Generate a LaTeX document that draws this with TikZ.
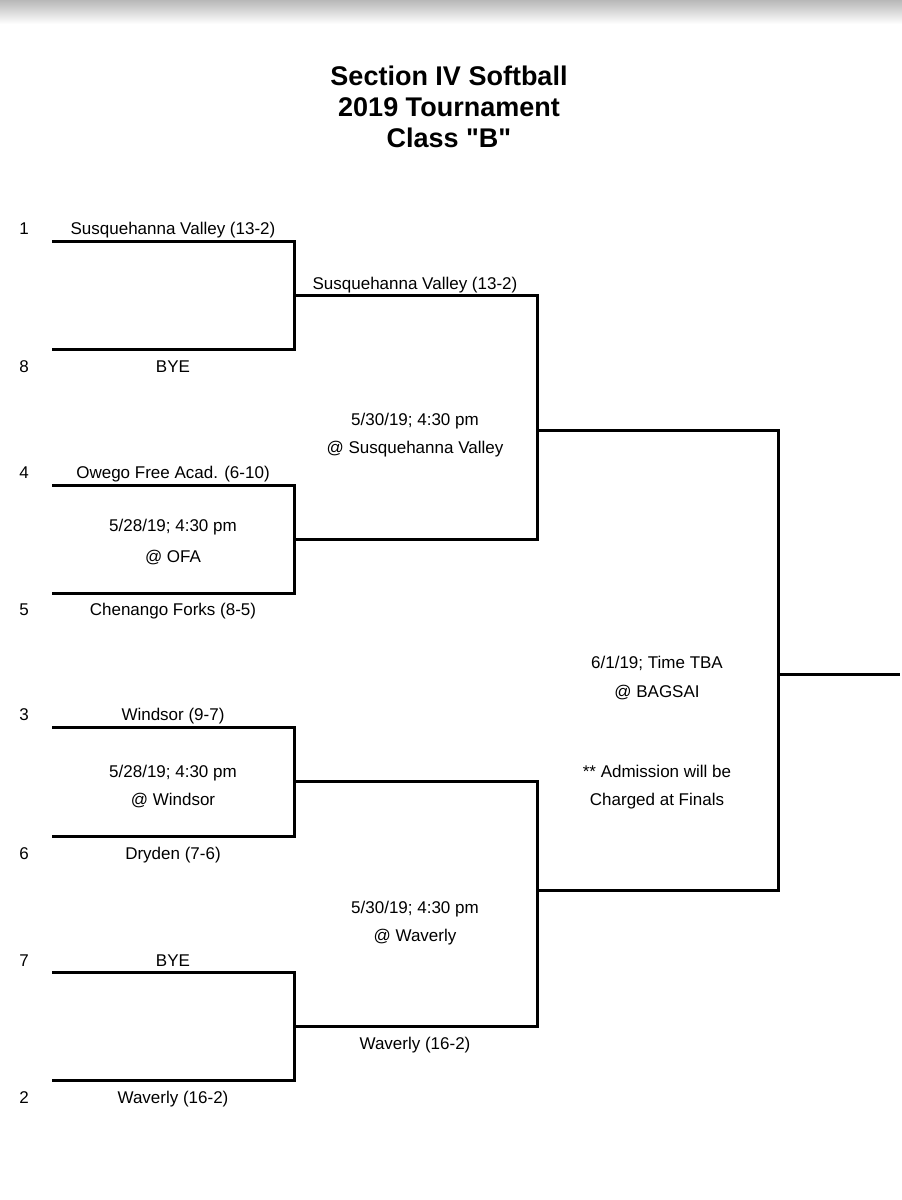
\documentclass[tikz,border=0pt]{standalone}
\usepackage{fontspec}
\setmainfont{Liberation Sans}[Ligatures=TeXOff]
\begin{document}
\begin{tikzpicture}[x=1pt,y=-1pt,
  bline/.style={line width=3pt, line join=miter},
  lbl/.style={anchor=base, inner sep=0pt, font=\fontsize{17}{20}\selectfont},
  seed/.style={lbl},
  ttl/.style={anchor=base, inner sep=0pt, font=\fontsize{27}{31}\selectfont\bfseries}]
\useasboundingbox (0,0) rectangle (902,1200);
\fill[white] (0,0) rectangle (902,1200);
\shade[top color=black!28, bottom color=white] (0,0) rectangle (902,24);

% title
\node[ttl] (t1) at (449,85) {Section IV Softball};
\node[ttl] (t2) at (449,116) {2019 Tournament};
\node[ttl] (t3) at (449,147) {Class "B"};

% coordinates - round 1
\coordinate (a1) at (52,241);  \coordinate (b1) at (294,241);
\coordinate (a8) at (52,349);  \coordinate (b8) at (294,349);
\coordinate (a4) at (52,485);  \coordinate (b4) at (294,485);
\coordinate (a5) at (52,593);  \coordinate (b5) at (294,593);
\coordinate (a3) at (52,727);  \coordinate (b3) at (294,727);
\coordinate (a6) at (52,836);  \coordinate (b6) at (294,836);
\coordinate (a7) at (52,972);  \coordinate (b7) at (294,972);
\coordinate (a2) at (52,1080); \coordinate (b2) at (294,1080);
% round 2
\coordinate (m18) at (294,295);  \coordinate (n18) at (537,295);
\coordinate (m45) at (294,539);  \coordinate (n45) at (537,539);
\coordinate (m36) at (294,781);  \coordinate (n36) at (537,781);
\coordinate (m72) at (294,1026); \coordinate (n72) at (537,1026);
% round 3
\coordinate (u) at (537,430);  \coordinate (uu) at (778,430);
\coordinate (l) at (537,890);  \coordinate (ll) at (778,890);
% final
\coordinate (f) at (778,674);  \coordinate (ff) at (900,674);

\draw[bline] (a1) -- (b1) -- (b8) -- (a8);
\draw[bline] (a4) -- (b4) -- (b5) -- (a5);
\draw[bline] (a3) -- (b3) -- (b6) -- (a6);
\draw[bline] (a7) -- (b7) -- (b2) -- (a2);
\draw[bline] (m18) -- (n18) -- (n45) -- (m45);
\draw[bline] (m36) -- (n36) -- (n72) -- (m72);
\draw[bline] (u) -- (uu) -- (ll) -- (l);
\draw[bline] (f) -- (ff);

% seeds
\node[seed] (s1) at (24,234) {1};
\node[seed] (s8) at (24,372) {8};
\node[seed] (s4) at (24,478) {4};
\node[seed] (s5) at (24,615) {5};
\node[seed] (s3) at (24,720) {3};
\node[seed] (s6) at (24,859) {6};
\node[seed] (s7) at (24,966) {7};
\node[seed] (s2) at (24,1103) {2};

% round 1 labels
\node[lbl] (l1) at (173,234) {Susquehanna Valley (13-2)};
\node[lbl] (l8) at (173,372) {BYE};
\node[lbl] (l4) at (173,478) {Owego Free Acad. (6-10)};
\node[lbl] (g45a) at (173,531) {5/28/19; 4:30 pm};
\node[lbl] (g45b) at (173,562) {@ OFA};
\node[lbl] (l5) at (173,615) {Chenango Forks (8-5)};
\node[lbl] (l3) at (173,720) {Windsor (9-7)};
\node[lbl] (g36a) at (173,777) {5/28/19; 4:30 pm};
\node[lbl] (g36b) at (173,805) {@ Windsor};
\node[lbl] (l6) at (173,859) {Dryden (7-6)};
\node[lbl] (l7) at (173,966) {BYE};
\node[lbl] (l2) at (173,1103) {Waverly (16-2)};

% round 2 labels
\node[lbl] (r1) at (415,289) {Susquehanna Valley (13-2)};
\node[lbl] (gua) at (415,425) {5/30/19; 4:30 pm};
\node[lbl] (gub) at (415,453) {@ Susquehanna Valley};
\node[lbl] (gla) at (415,913) {5/30/19; 4:30 pm};
\node[lbl] (glb) at (415,941) {@ Waverly};
\node[lbl] (r2) at (415,1049) {Waverly (16-2)};

% final labels
\node[lbl] (fa) at (657,668) {6/1/19; Time TBA};
\node[lbl] (fb) at (657,697) {@ BAGSAI};
\node[lbl] (fc) at (657,777) {** Admission will be};
\node[lbl] (fd) at (657,805) {Charged at Finals};
\end{tikzpicture}
\end{document}
